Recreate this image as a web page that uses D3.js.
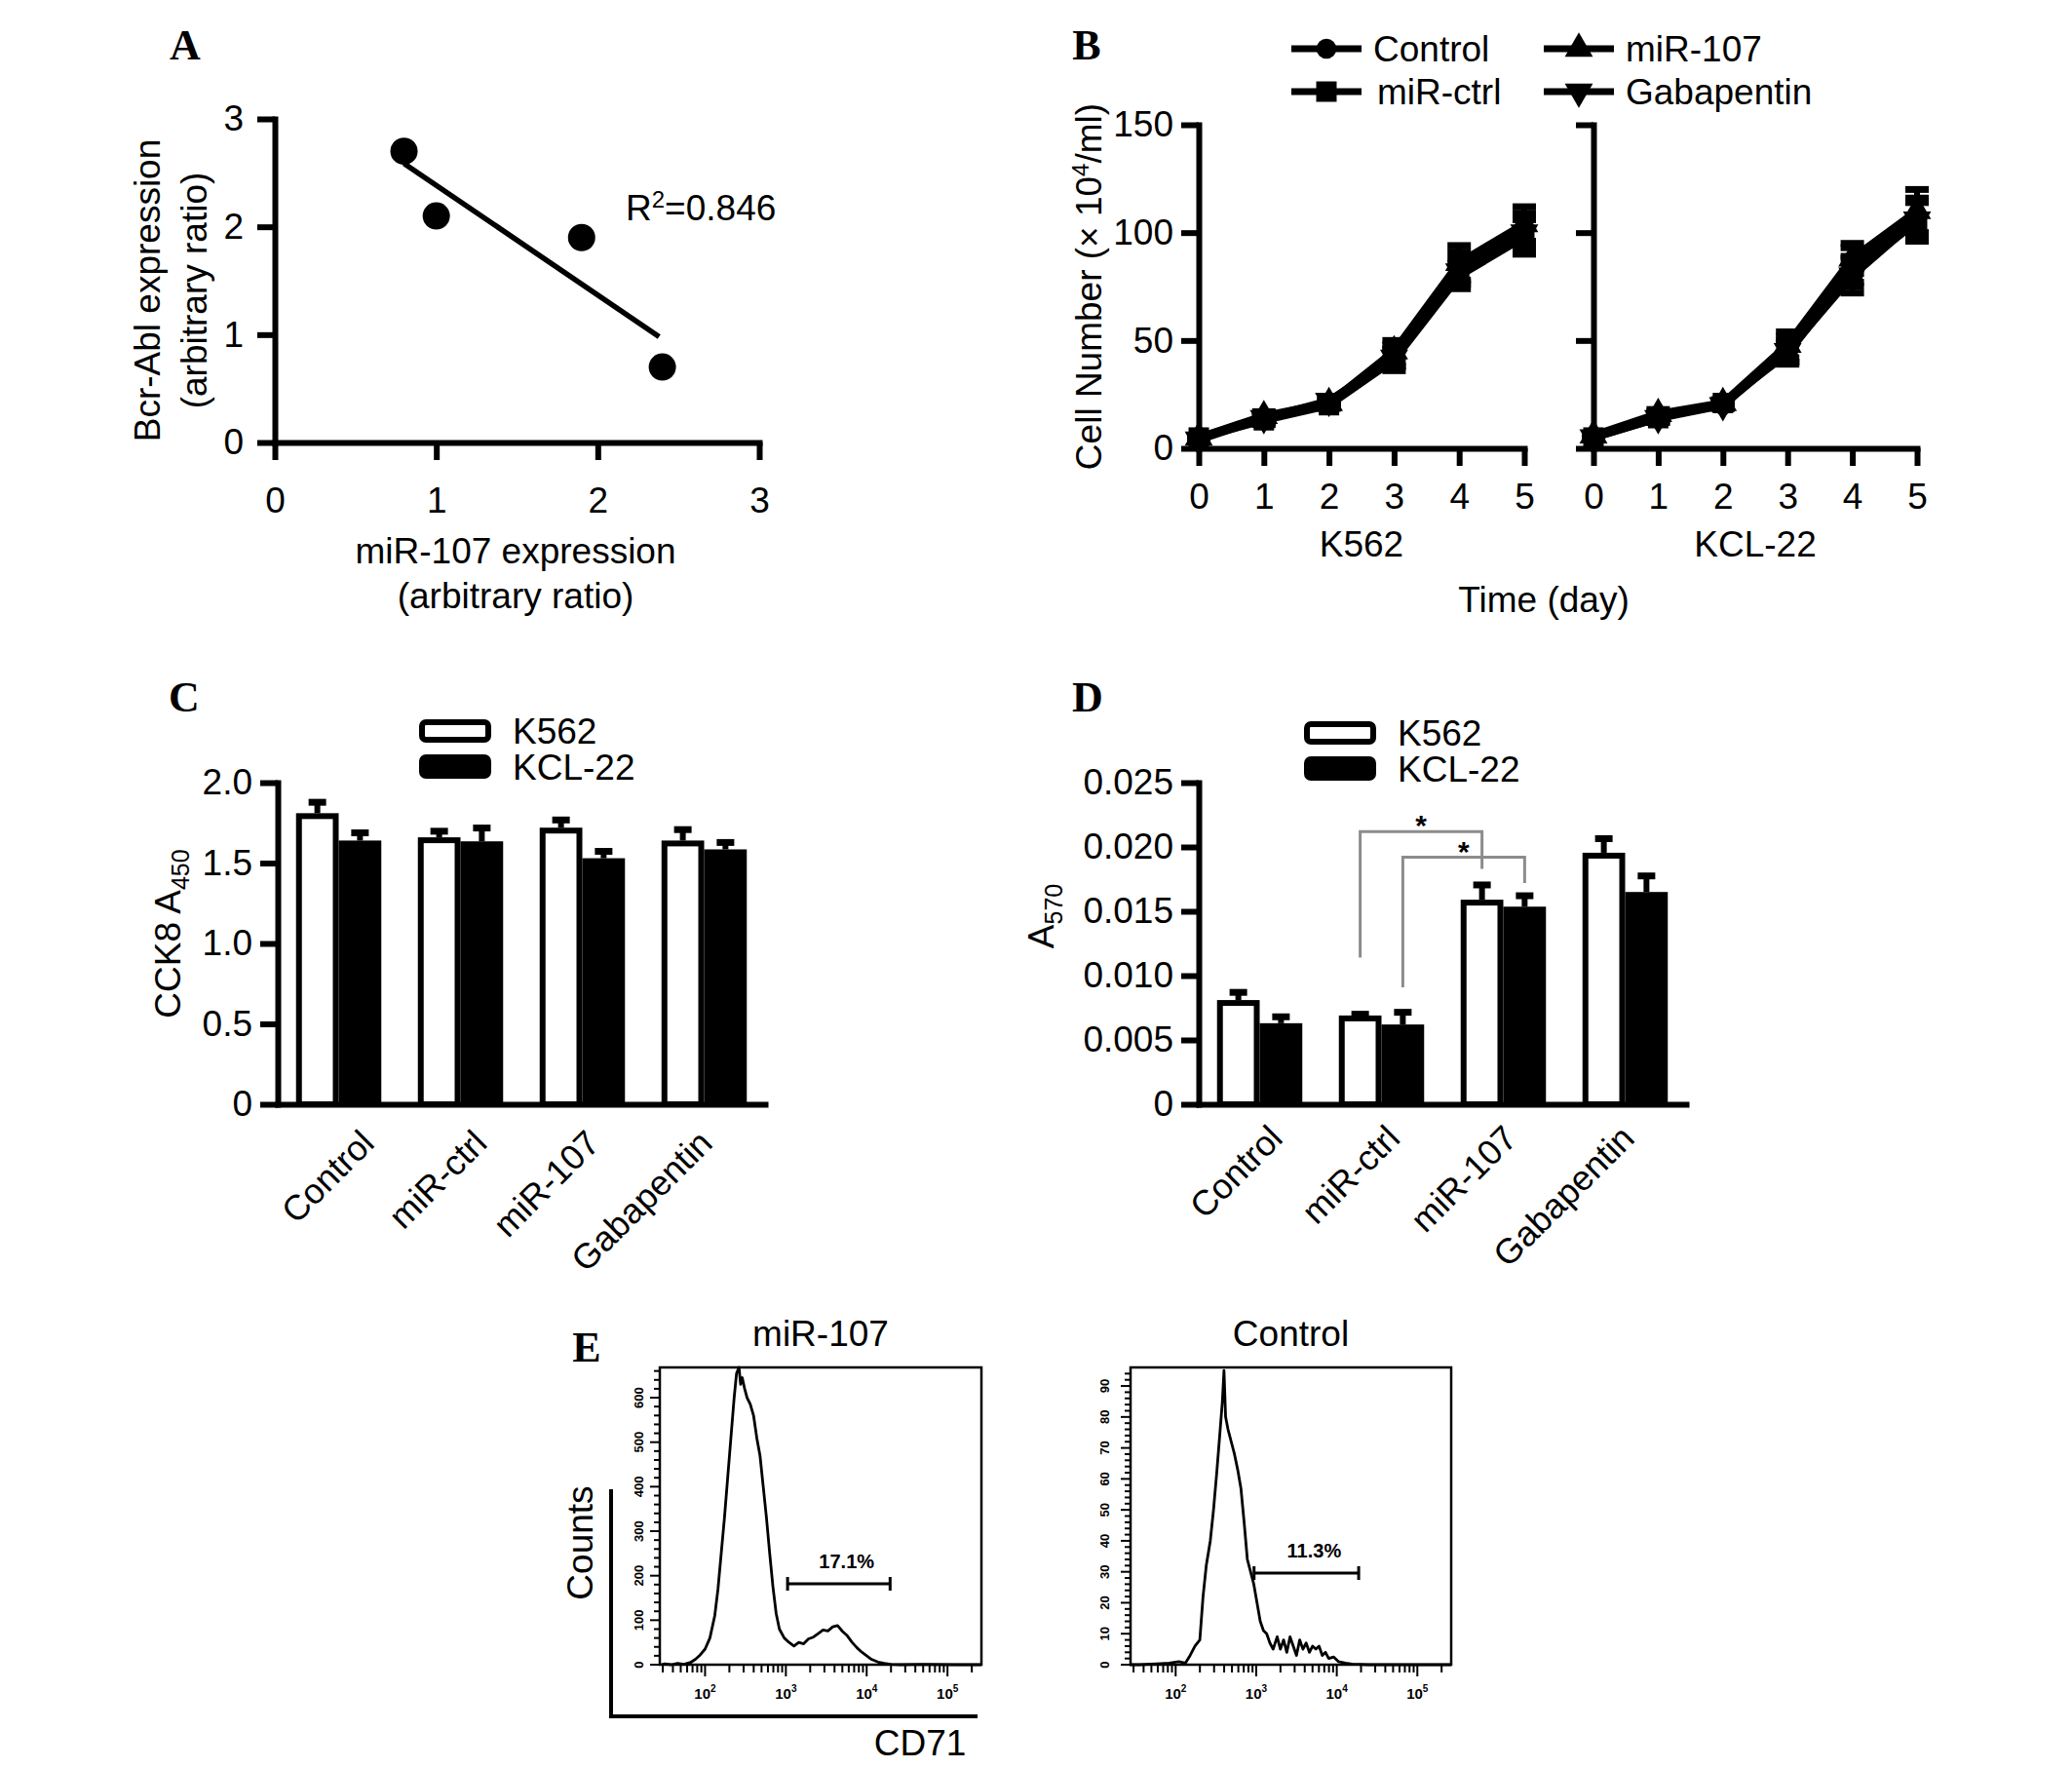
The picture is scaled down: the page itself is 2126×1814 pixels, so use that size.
<!DOCTYPE html>
<html><head><meta charset="utf-8">
<script src="https://cdn.jsdelivr.net/npm/d3@7"></script>
<style>
html,body{margin:0;padding:0;background:#fff;}
svg{display:block;}
</style></head><body>
<svg id="fig" width="2126" height="1814"></svg>
<script>
// ================= DATA =================
// Panel A
const aMiR107 = [0.8, 1.0, 1.9, 2.4];
const aBcrAbl = [2.7, 2.1, 1.9, 0.7];
const aTicks = [0, 1, 2, 3];
const aR2 = "0.846";

// Panel B
const bDays = [0, 1, 2, 3, 4, 5];
const bSeries = ["Control", "miR-ctrl", "miR-107", "Gabapentin"];
const bTicksY = [0, 50, 100, 150];
const k562Control = [5, 14, 21, 43, 84, 101], k562ControlErr = [1, 2, 1.5, 5, 7, 8];
const k562MiRctrl = [5, 13, 20, 41, 80, 98],  k562MiRctrlErr = [1, 2, 1.5, 5, 6, 8];
const k562MiR107  = [5, 15, 21, 45, 86, 104], k562MiR107Err  = [1, 2, 1.5, 5, 8, 8];
const k562Gaba    = [4, 14, 22, 42, 82, 100], k562GabaErr    = [1, 2, 1.5, 4, 6, 8];
const kclControl  = [5, 15, 20, 46, 85, 107], kclControlErr  = [1, 2, 1.5, 6, 8, 9];
const kclMiRctrl  = [5, 14, 21, 44, 82, 105], kclMiRctrlErr  = [1, 2, 1.5, 5, 7, 9];
const kclMiR107   = [6, 16, 21, 48, 88, 110], kclMiR107Err   = [1, 2, 1.5, 6, 7, 10];
const kclGaba     = [5, 14, 20, 45, 80, 106], kclGabaErr     = [1, 2, 1.5, 5, 8, 8];

// Panels C & D
const groups = ["Control", "miR-ctrl", "miR-107", "Gabapentin"];
const cells = ["K562", "KCL-22"];
const cK562 = [1.81, 1.66, 1.72, 1.64],    cK562Err = [0.08, 0.05, 0.06, 0.08];
const cKCL  = [1.64, 1.635, 1.53, 1.585],  cKCLErr  = [0.06, 0.095, 0.055, 0.055];
const cTicks = [0, 0.5, 1.0, 1.5, 2.0];
const dK562 = [0.0081, 0.0069, 0.0159, 0.01955], dK562Err = [0.00075, 0.00025, 0.0013, 0.00125];
const dKCL  = [0.0063, 0.0062, 0.01536, 0.0165], dKCLErr  = [0.00065, 0.0011, 0.001, 0.0014];
const dTicks = [0, 0.005, 0.010, 0.015, 0.020, 0.025];
const dBrackets = [
  {fromG: "miR-ctrl", fromC: "K562",   toG: "miR-107", toC: "K562",   low: 0.0114, top: 0.0212, end: 0.0183},
  {fromG: "miR-ctrl", fromC: "KCL-22", toG: "miR-107", toC: "KCL-22", low: 0.0091, top: 0.0192, end: 0.0172}
];

// Panel E (flow histograms: log10 CD71 intensity, counts)
const e107LogX = [1.46,1.50,1.58,1.66,1.74,1.82,1.88,1.94,2.00,2.06,2.12,2.16,2.20,2.24,2.28,2.32,2.36,2.39,2.42,2.44,2.46,2.49,2.52,2.56,2.60,2.64,2.68,2.72,2.76,2.80,2.84,2.88,2.92,2.98,3.04,3.10,3.16,3.22,3.28,3.34,3.40,3.46,3.52,3.58,3.64,3.70,3.76,3.82,3.88,3.94,4.00,4.06,4.14,4.22,4.30,4.42,4.70,5.10,5.42];
const e107Count = [0,2,0,3,1,5,12,22,35,60,110,170,250,330,420,510,600,655,668,630,645,620,600,585,560,510,470,400,330,250,175,115,80,60,50,42,50,47,58,62,70,78,76,85,88,75,65,50,38,28,20,12,6,3,1,0,1,0,0];
const eCtlLogX = [1.43,1.55,1.76,1.92,2.04,2.12,2.18,2.24,2.30,2.34,2.38,2.43,2.47,2.51,2.55,2.58,2.60,2.62,2.65,2.69,2.73,2.77,2.81,2.85,2.89,2.93,2.97,3.01,3.05,3.09,3.13,3.17,3.21,3.26,3.30,3.34,3.38,3.42,3.46,3.50,3.54,3.58,3.62,3.66,3.70,3.74,3.78,3.82,3.86,3.90,3.96,4.02,4.11,4.19,4.39,5.42];
const eCtlCount = [0,0,0.3,0.5,1,0.5,3,6,8,22,32,40,50,62,75,85,95,80,76,72,68,63,57,46,34,30,26,20,14,11,10,7,5,9,5,8,4,9,6,3,8,5,7,4,6,5,6,3,4,2,2.5,1,0.5,0.2,0,0];
const eTitles = ["miR-107", "Control"];
const eYMax = [668, 96];
const eYMajor = [[0,100,200,300,400,500,600], [0,10,20,30,40,50,60,70,80,90]];
const eYMinorStep = [20, 2];
const eXDecades = [2, 3, 4, 5];
const eGateLo = [1050, 940], eGateHi = [19500, 18700], eGateY = [182, 29.6];
const eGateLabel = ["17.1%", "11.3%"];

// ================= DRAWING =================
const FONT = '"Liberation Sans", Arial, Helvetica, sans-serif';
const SERIF = '"Liberation Serif", "Times New Roman", serif';
const TICK = 37, TITLE = 37;
const svg = d3.select("#fig");
svg.append("rect").attr("width", 2126).attr("height", 1814).attr("fill", "#fff");

function styleAxis(g, sw, fs) {
  g.attr("font-family", FONT).attr("font-size", fs);
  g.select(".domain").attr("stroke", "#000").attr("stroke-width", sw).attr("stroke-linecap", "square");
  g.selectAll(".tick line").attr("stroke", "#000").attr("stroke-width", sw);
  g.selectAll(".tick text").attr("fill", "#000");
}
function text(g, s, x, y, size, opt = {}) {
  const t = g.append("text").attr("x", x).attr("y", y)
    .attr("font-family", opt.family || FONT).attr("font-size", size)
    .attr("font-weight", opt.weight || "normal")
    .attr("text-anchor", opt.anchor || "middle").attr("dy", opt.dy == null ? "0.35em" : opt.dy)
    .attr("fill", "#000").text(s);
  if (opt.rotate) t.attr("transform", `rotate(${opt.rotate},${x},${y})`);
  return t;
}

// Panel letters
[["A", 190, 46], ["B", 1115, 46], ["C", 189, 715], ["D", 1116, 715], ["E", 602, 1382]].forEach(([l, x, y]) =>
  text(svg, l, x, y, 44, {family: SERIF, weight: "bold"}));

// ---------- Panel A ----------
{
  const g = svg.append("g");
  const x = d3.scaleLinear().domain([0, 3]).range([282, 779]);
  const y = d3.scaleLinear().domain([0, 3]).range([454, 122]);
  g.append("g").attr("transform", `translate(0,${y(0)})`)
    .call(d3.axisBottom(x).tickValues(aTicks).tickFormat(d3.format("d")).tickSize(18).tickSizeOuter(0).tickPadding(28))
    .call(styleAxis, 6, TICK);
  g.append("g").attr("transform", `translate(${x(0)},0)`)
    .call(d3.axisLeft(y).tickValues(aTicks).tickFormat(d3.format("d")).tickSize(18).tickSizeOuter(0).tickPadding(14))
    .call(styleAxis, 6, TICK);
  const mx = d3.mean(aMiR107), my = d3.mean(aBcrAbl);
  const sxy = d3.sum(aMiR107, (v, i) => (v - mx) * (aBcrAbl[i] - my));
  const sxx = d3.sum(aMiR107, v => (v - mx) * (v - mx));
  const slope = sxy / sxx, icpt = my - slope * mx;
  const [x0, x1] = d3.extent(aMiR107);
  g.append("line").attr("x1", x(x0)).attr("y1", y(icpt + slope * x0))
    .attr("x2", x(x1 - 0.02)).attr("y2", y(icpt + slope * (x1 - 0.02)))
    .attr("stroke", "#000").attr("stroke-width", 5.5);
  g.selectAll("circle.pt").data(aMiR107).join("circle")
    .attr("cx", d => x(d)).attr("cy", (d, i) => y(aBcrAbl[i])).attr("r", 14).attr("fill", "#000");
  const r2 = g.append("text").attr("x", 642).attr("y", 226).attr("font-family", FONT).attr("font-size", TITLE).attr("fill", "#000");
  r2.append("tspan").text("R");
  r2.append("tspan").attr("dy", -13).attr("font-size", 24).text("2");
  r2.append("tspan").attr("dy", 13).text("=" + aR2);
  text(g, "Bcr-Abl expression", 151, 298, TITLE, {rotate: -90});
  text(g, "(arbitrary ratio)", 199, 298, TITLE, {rotate: -90});
  text(g, "miR-107 expression", 529, 565, TITLE);
  text(g, "(arbitrary ratio)", 529, 611, TITLE);
}

// ---------- Panel B ----------
{
  const g = svg.append("g");
  const y = d3.scaleLinear().domain([0, 150]).range([460, 128]);
  const panels = [
    {x: d3.scaleLinear().domain([0, 5]).range([1230, 1564]), name: "K562", labels: true,
     vals: [k562Control, k562MiRctrl, k562MiR107, k562Gaba], errs: [k562ControlErr, k562MiRctrlErr, k562MiR107Err, k562GabaErr]},
    {x: d3.scaleLinear().domain([0, 5]).range([1635, 1967]), name: "KCL-22", labels: false,
     vals: [kclControl, kclMiRctrl, kclMiR107, kclGaba], errs: [kclControlErr, kclMiRctrlErr, kclMiR107Err, kclGabaErr]}
  ];
  const sym = [
    d3.symbol().type(d3.symbolCircle).size(330),
    d3.symbol().type(d3.symbolSquare).size(440),
    d3.symbol().type(d3.symbolTriangle).size(360),
    d3.symbol().type(d3.symbolTriangle).size(360)
  ];
  const symRot = [0, 0, 0, 180];
  panels.forEach(p => {
    const ya = d3.axisLeft(y).tickValues(bTicksY).tickSize(18).tickSizeOuter(0).tickPadding(8);
    if (!p.labels) ya.tickFormat("");
    g.append("g").attr("transform", `translate(${p.x(0)},0)`).call(ya).call(styleAxis, 6, TICK);
    g.append("g").attr("transform", `translate(0,${y(0)})`)
      .call(d3.axisBottom(p.x).tickValues(bDays).tickFormat(d3.format("d")).tickSize(18).tickSizeOuter(0).tickPadding(18))
      .call(styleAxis, 6, TICK);
    text(g, p.name, (p.x.range()[0] + p.x.range()[1]) / 2, 558, TITLE);
    const line = d3.line().x((d, i) => p.x(bDays[i])).y(d => y(d));
    bSeries.forEach((s, si) => {
      g.append("path").attr("d", line(p.vals[si])).attr("fill", "none").attr("stroke", "#000")
        .attr("stroke-width", 8).attr("stroke-linejoin", "round");
    });
    bSeries.forEach((s, si) => {
      const v = p.vals[si], e = p.errs[si];
      bDays.forEach((d, i) => {
        const cx = p.x(d), yt = y(v[i] + e[i]), yb = y(v[i] - e[i]);
        g.append("line").attr("x1", cx).attr("x2", cx).attr("y1", yt).attr("y2", yb).attr("stroke", "#000").attr("stroke-width", 6);
        [yt, yb].forEach(yy => g.append("line").attr("x1", cx - 12).attr("x2", cx + 12).attr("y1", yy).attr("y2", yy)
          .attr("stroke", "#000").attr("stroke-width", 7));
      });
      g.selectAll(null).data(v).join("path")
        .attr("d", sym[si]).attr("fill", "#000")
        .attr("transform", (d, i) => `translate(${p.x(bDays[i])},${y(d)}) rotate(${symRot[si]})`);
    });
  });
  text(g, "Time (day)", 1584, 615, TITLE);
  const yt = g.append("text").attr("transform", "translate(1117,294) rotate(-90)").attr("text-anchor", "middle")
    .attr("dy", "0.35em").attr("font-family", FONT).attr("font-size", TITLE).attr("fill", "#000");
  yt.append("tspan").text("Cell Number (× 10");
  yt.append("tspan").attr("dy", -13).attr("font-size", 24).text("4");
  yt.append("tspan").attr("dy", 13).text("/ml)");
  // legend
  const legPos = [[1325, 50], [1325, 94], [1584, 50], [1584, 94]];
  bSeries.forEach((s, si) => {
    const [lx, ly] = legPos[si];
    g.append("line").attr("x1", lx).attr("x2", lx + 72).attr("y1", ly).attr("y2", ly).attr("stroke", "#000").attr("stroke-width", 7);
    g.append("path").attr("d", sym[si]).attr("fill", "#000").attr("transform", `translate(${lx + 36},${ly}) rotate(${symRot[si]})`);
    text(g, s, lx + (si === 1 ? 88 : 84), ly, TITLE, {anchor: "start"});
  });
}

// ---------- Panels C & D ----------
function barPanel(cfg) {
  const g = svg.append("g");
  const x = d3.scaleBand().domain(groups).range(cfg.xr).paddingInner(0.3).paddingOuter(0.15);
  const xs = d3.scaleBand().domain(cells).range([0, x.bandwidth()]);
  const y = d3.scaleLinear().domain(cfg.yd).range([1133, 803]);
  const lab = d3.scalePoint().domain(groups).range(cfg.labX);
  g.append("g").attr("transform", `translate(0,${y(0)})`)
    .call(d3.axisBottom(x).tickSize(0).tickSizeOuter(0).tickPadding(0))
    .call(styleAxis, 6, 36)
    .call(a => a.selectAll(".tick text").attr("x", 0).attr("y", 0).attr("dy", 0).attr("text-anchor", "end")
      .attr("transform", d => `translate(${lab(d) - (x(d) + x.bandwidth() / 2)},${cfg.labDy}) rotate(-45)`));
  g.append("g").attr("transform", `translate(${cfg.xr[0]},0)`)
    .call(d3.axisLeft(y).tickValues(cfg.ticks).tickFormat(cfg.fmt).tickSize(18).tickSizeOuter(0).tickPadding(cfg.pad))
    .call(styleAxis, 6, TICK);
  const series = [{c: "K562", v: cfg.k, e: cfg.ke, fill: "#fff"}, {c: "KCL-22", v: cfg.kc, e: cfg.kce, fill: "#000"}];
  series.forEach(s => {
    groups.forEach((gr, i) => {
      const bx = x(gr) + xs(s.c), bw = xs.bandwidth(), cx = bx + bw / 2;
      g.append("rect").attr("x", bx + 3).attr("width", bw - 6).attr("y", y(s.v[i]) + 3)
        .attr("height", y(0) - y(s.v[i]) - 3).attr("fill", s.fill).attr("stroke", "#000").attr("stroke-width", 6);
      const yt = y(s.v[i] + s.e[i]);
      g.append("line").attr("x1", cx).attr("x2", cx).attr("y1", y(s.v[i])).attr("y2", yt).attr("stroke", "#000").attr("stroke-width", 6);
      g.append("line").attr("x1", cx - 9).attr("x2", cx + 9).attr("y1", yt + 2).attr("y2", yt + 2).attr("stroke", "#000").attr("stroke-width", 7);
    });
  });
  // legend
  const [lx, ly] = cfg.leg;
  g.append("rect").attr("x", lx + 3).attr("y", ly + 3).attr("width", 68).attr("height", 18).attr("rx", 4)
    .attr("fill", "#fff").attr("stroke", "#000").attr("stroke-width", 6);
  g.append("rect").attr("x", lx + 3).attr("y", ly + 39).attr("width", 68).attr("height", 19).attr("rx", 4)
    .attr("fill", "#000").attr("stroke", "#000").attr("stroke-width", 6);
  text(g, "K562", lx + 96, ly + 12, TITLE, {anchor: "start"});
  text(g, "KCL-22", lx + 96, ly + 49, TITLE, {anchor: "start"});
  // y title
  const t = g.append("text").attr("transform", `translate(${cfg.tx},${cfg.ty}) rotate(-90)`).attr("text-anchor", "middle")
    .attr("dy", "0.35em").attr("font-family", FONT).attr("font-size", TITLE).attr("fill", "#000");
  t.append("tspan").text(cfg.title);
  t.append("tspan").attr("dy", 9).attr("font-size", 25).text(cfg.sub);
  return {g, x, xs, y};
}
barPanel({xr: [285, 785], yd: [0, 2], ticks: cTicks, fmt: d => d === 0 ? "0" : d3.format(".1f")(d), pad: 8,
  k: cK562, ke: cK562Err, kc: cKCL, kce: cKCLErr, leg: [430, 738], title: "CCK8 A", sub: "450", tx: 172, ty: 958,
  labX: [386, 733], labDy: 42});
const D = barPanel({xr: [1230, 1730], yd: [0, 0.025], ticks: dTicks, fmt: d => d === 0 ? "0" : d3.format(".3f")(d), pad: 8,
  k: dK562, ke: dK562Err, kc: dKCL, kce: dKCLErr, leg: [1338, 740], title: "A", sub: "570", tx: 1068, ty: 940,
  labX: [1318, 1679], labDy: 37});
dBrackets.forEach(b => {
  const xa = D.x(b.fromG) + D.xs(b.fromC) + D.xs.bandwidth() / 2;
  const xb = D.x(b.toG) + D.xs(b.toC) + D.xs.bandwidth() / 2;
  D.g.append("path").attr("d", `M${xa},${D.y(b.low)}V${D.y(b.top)}H${xb}V${D.y(b.end)}`)
    .attr("fill", "none").attr("stroke", "#8c8c8c").attr("stroke-width", 3);
  text(D.g, "*", (xa + xb) / 2, D.y(b.top) + 4, 30, {weight: "bold", dy: 0});
});

// ---------- Panel E ----------
{
  const g = svg.append("g");
  const boxes = [{x0: 677, x1: 1007, lab: 22}, {x0: 1160, x1: 1489, lab: 27}];
  const yTop = 1403, yBot = 1708;
  const hists = [[e107LogX, e107Count], [eCtlLogX, eCtlCount]];
  boxes.forEach((b, k) => {
    const x = d3.scaleLog().domain([Math.pow(10, 1.44), Math.pow(10, 5.42)]).range([b.x0, b.x1]);
    const y = d3.scaleLinear().domain([0, eYMax[k]]).range([yBot, yTop]);
    text(g, eTitles[k], (b.x0 + b.x1) / 2, 1368, TITLE);
    g.append("rect").attr("x", b.x0).attr("y", yTop).attr("width", b.x1 - b.x0).attr("height", yBot - yTop)
      .attr("fill", "none").attr("stroke", "#000").attr("stroke-width", 2.5);
    // y ticks
    d3.range(0, eYMax[k], eYMinorStep[k]).forEach(v => {
      const major = eYMajor[k].includes(v);
      g.append("line").attr("x1", b.x0 - (major ? 10 : 6)).attr("x2", b.x0).attr("y1", y(v)).attr("y2", y(v))
        .attr("stroke", "#000").attr("stroke-width", 2);
    });
    eYMajor[k].forEach(v => text(g, String(v), b.x0 - b.lab, y(v), 13, {rotate: -90, weight: "bold"}));
    // x ticks
    const [d0, d1] = x.domain();
    for (let dec = 1; dec <= 5; dec++) for (let m = 1; m <= 9; m++) {
      const v = m * Math.pow(10, dec);
      if (v < d0 || v > d1) continue;
      g.append("line").attr("x1", x(v)).attr("x2", x(v)).attr("y1", yBot).attr("y2", yBot + (m === 1 ? 12 : 8))
        .attr("stroke", "#000").attr("stroke-width", 2);
    }
    eXDecades.forEach(dec => {
      const t = g.append("text").attr("x", x(Math.pow(10, dec))).attr("y", 1743).attr("text-anchor", "middle")
        .attr("font-family", FONT).attr("font-size", 15).attr("font-weight", "bold").attr("fill", "#000");
      t.append("tspan").text("10");
      t.append("tspan").attr("dy", -7).attr("font-size", 10).text(String(dec));
    });
    // histogram
    const [lx, cnt] = hists[k];
    const line = d3.line().x(d => x(Math.pow(10, d))).y((d, i) => y(cnt[i]));
    g.append("path").attr("d", line(lx)).attr("fill", "none").attr("stroke", "#000")
      .attr("stroke-width", 2.8).attr("stroke-linejoin", "round");
    // gate
    const gx0 = x(eGateLo[k]), gx1 = x(eGateHi[k]), gy = y(eGateY[k]);
    g.append("path").attr("d", `M${gx0},${gy}H${gx1}M${gx0},${gy - 7}V${gy + 7}M${gx1},${gy - 7}V${gy + 7}`)
      .attr("fill", "none").attr("stroke", "#000").attr("stroke-width", 3);
    text(g, eGateLabel[k], (gx0 + gx1) / 2 + 8, gy - 23, 20, {weight: "bold"});
  });
  g.append("path").attr("d", "M627,1528V1761H1003").attr("fill", "none").attr("stroke", "#000").attr("stroke-width", 4);
  text(g, "Counts", 595, 1583, TITLE, {rotate: -90});
  text(g, "CD71", 944, 1788, TITLE);
}
</script>
</body></html>
